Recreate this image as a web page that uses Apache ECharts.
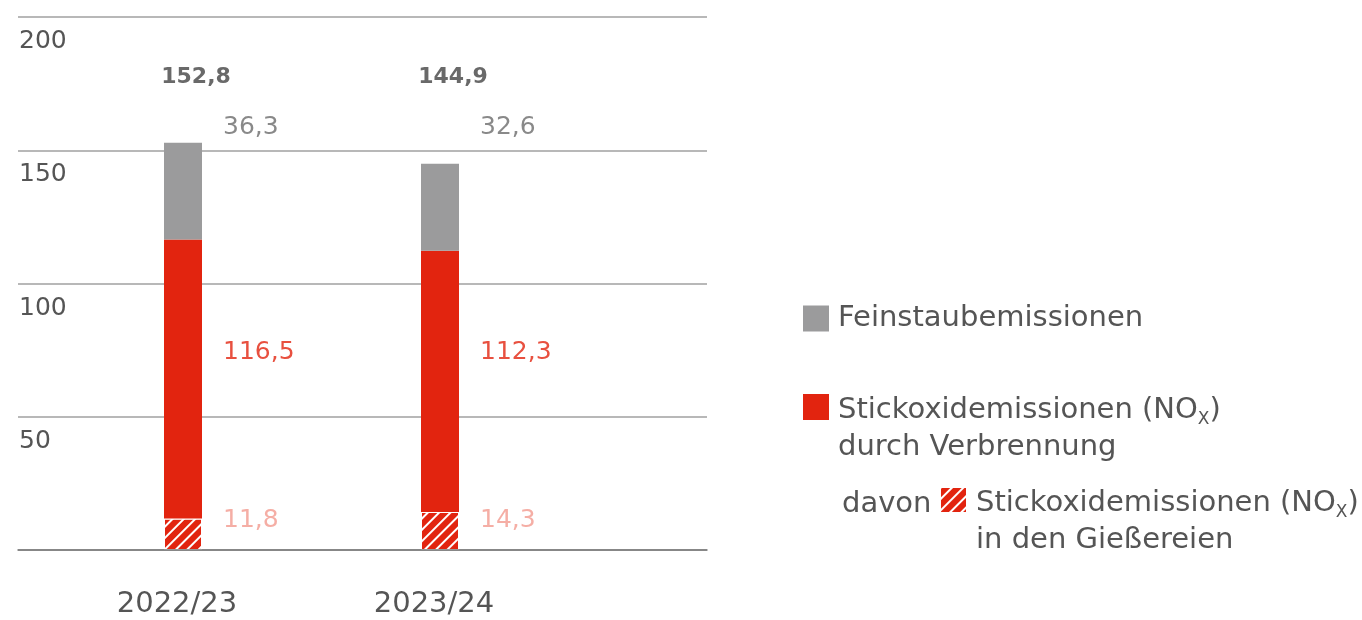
<!DOCTYPE html>
<html>
<head>
<meta charset="utf-8">
<script src="https://cdn.jsdelivr.net/npm/echarts@6/dist/echarts.min.js"></script>
<style>
  html, body { margin: 0; padding: 0; background: #fff; }
  #chart { width: 1362px; height: 620px; }
</style>
</head>
<body>
<div id="chart"></div>
<script>
// Daten
const categories = ['2022/23', '2023/24'];
const noxGiesserei = [11.8, 14.3];   // davon Gießereien
const noxGesamt = [116.5, 112.3];     // NOx durch Verbrennung
const feinstaub = [36.3, 32.6];
const gesamt = [152.8, 144.9];
const yTicks = [0, 50, 100, 150, 200];

const FONT = 'DejaVu Sans';
const GREY = '#9b9b9c';
const RED = '#e2240f';
const SALMON = '#f29a8e';
const TEXT = '#555';

const fmt = v => v.toFixed(1).replace('.', ',');

// Zeilen fuer die Wertbeschriftungen (in Achseneinheiten)
const rowTotal = 177.3;
const rowGrey = 158.6;
const rowRed = 74.2;
const rowHatch = 11.2;

const name1 = 'Feinstaubemissionen';
const name2 = 'Stickoxidemissionen (NOx) durch Verbrennung';
const name3 = 'Stickoxidemissionen (NOx) in den Gießereien';

const hatchDecal = {
  symbol: 'rect',
  symbolSize: 1,
  color: '#fff',
  dashArrayX: [1, 0],
  dashArrayY: [2, 6],
  rotation: -Math.PI / 4
};

function labelSeries(values, row, opts) {
  return {
    type: 'scatter',
    xAxisIndex: 1,
    yAxisIndex: 1,
    symbolSize: 0,
    silent: true,
    data: values.map((v, i) => [i, row]),
    label: Object.assign({
      show: true,
      fontFamily: FONT,
      fontSize: 25,
      verticalAlign: 'middle',
      formatter: p => fmt(values[p.dataIndex])
    }, opts)
  };
}

const legendText = {
  color: TEXT, fontSize: 29, fontFamily: FONT, lineHeight: 37,
  padding: [43, 0, 0, 4],
  rich: { sub: { fontSize: 17, fontFamily: FONT, color: TEXT, verticalAlign: 'bottom', lineHeight: 16 } }
};

const chart = echarts.init(document.getElementById('chart'));
chart.setOption({
  animation: false,
  textStyle: { fontFamily: FONT },
  grid: [
    { left: 18, right: 655, top: 17, bottom: 70 },
    { left: 54.5, right: 793.5, top: 17, bottom: 70 }
  ],
  xAxis: [
    {
      gridIndex: 0, type: 'value', min: 0, max: 1,
      axisLine: { show: true, lineStyle: { color: '#777', width: 1.5 } },
      axisTick: { show: false }, axisLabel: { show: false }, splitLine: { show: false },
      z: 10
    },
    {
      gridIndex: 1, type: 'category', data: categories,
      axisLine: { show: false }, axisTick: { show: false },
      axisLabel: {
        color: TEXT, fontSize: 29, margin: 40, fontFamily: FONT,
        padding: [0, 12, 0, 0]
      }
    }
  ],
  yAxis: [
    {
      gridIndex: 0, type: 'value', min: 0, max: 200, interval: 50,
      axisLine: { show: false }, axisTick: { show: false },
      splitLine: { lineStyle: { color: '#a0a0a0', width: 1.5 } },
      axisLabel: {
        inside: true, margin: 1, color: TEXT, fontSize: 25, fontFamily: FONT,
        verticalAlign: 'top', padding: [12, 0, 0, 0],
        formatter: v => (yTicks.indexOf(v) > 0 ? String(v) : '')
      }
    },
    { gridIndex: 1, type: 'value', min: 0, max: 200, show: false }
  ],
  legend: [
    {
      left: 803, top: 304, padding: 0, itemWidth: 26, itemHeight: 26, icon: 'rect',
      data: [name1],
      textStyle: { color: TEXT, fontSize: 29, fontFamily: FONT, padding: [0, 0, 0, 4] }
    },
    {
      left: 803, top: 348.5, padding: 0, itemWidth: 26, itemHeight: 26, icon: 'rect',
      data: [name2],
      formatter: () => 'Stickoxidemissionen (NO{sub|X})\ndurch Verbrennung',
      textStyle: legendText
    },
    {
      left: 939, top: 441.5, padding: 0, itemWidth: 27, itemHeight: 26, icon: 'rect',
      data: [{ name: name3, itemStyle: { color: RED, decal: hatchDecal } }],
      formatter: () => 'Stickoxidemissionen (NO{sub|X})\nin den Gießereien',
      textStyle: legendText
    }
  ],
  graphic: [
    {
      type: 'text', left: 842, top: 490,
      style: { text: 'davon', fill: TEXT, fontSize: 29, fontFamily: FONT }
    }
  ],
  series: [
    {
      name: name3, type: 'bar', stack: 'e', xAxisIndex: 1, yAxisIndex: 1,
      barWidth: 38, data: noxGiesserei,
      itemStyle: { color: RED, decal: hatchDecal, borderColor: '#fff', borderWidth: 1 }
    },
    {
      name: name2, type: 'bar', stack: 'e', xAxisIndex: 1, yAxisIndex: 1,
      barWidth: 38, data: noxGesamt.map((v, i) => +(v - noxGiesserei[i]).toFixed(1)),
      itemStyle: { color: RED }
    },
    {
      name: name1, type: 'bar', stack: 'e', xAxisIndex: 1, yAxisIndex: 1,
      barWidth: 38, data: feinstaub,
      itemStyle: { color: GREY }
    },
    labelSeries(gesamt, rowTotal, { position: [13, 0], align: 'center', fontWeight: 'bold', fontSize: 22, color: '#444' }),
    labelSeries(feinstaub, rowGrey, { position: [40, 0], align: 'left', color: '#6b6b6b' }),
    labelSeries(noxGesamt, rowRed, { position: [40, 0], align: 'left', color: RED }),
    labelSeries(noxGiesserei, rowHatch, { position: [40, 0], align: 'left', color: SALMON })
  ]
});
</script>
</body>
</html>
